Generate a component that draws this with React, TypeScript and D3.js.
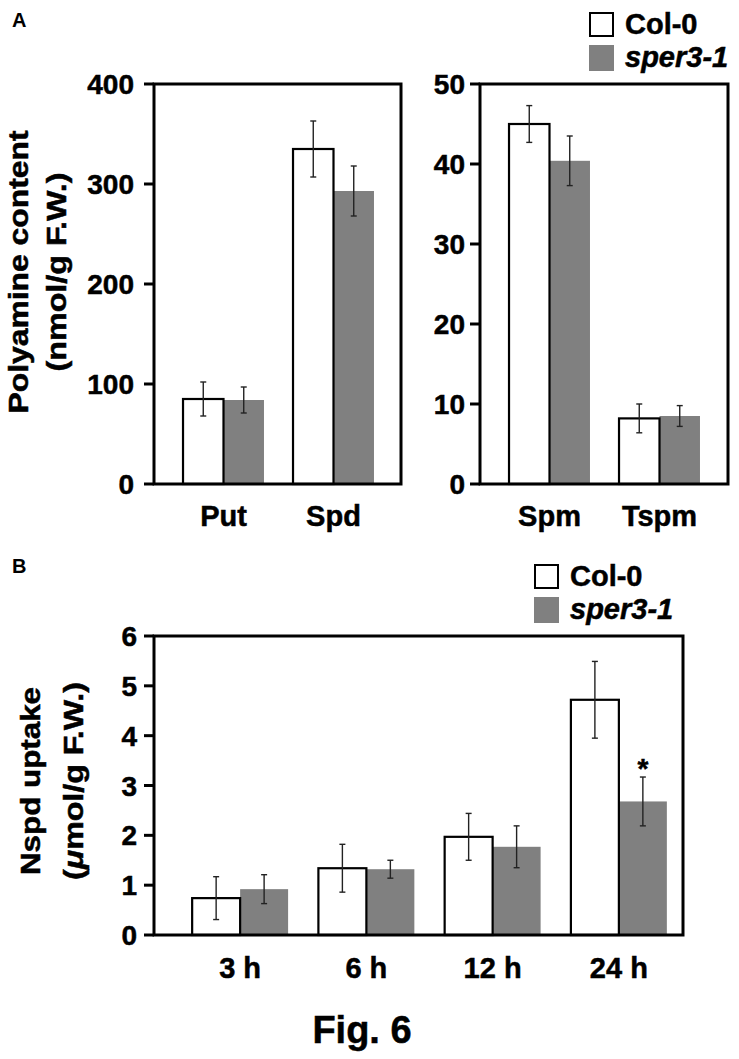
import React from "react";
import * as d3 from "d3";

// ---------- Data ----------
const seriesNames = ["Col-0", "sper3-1"];

const groupsA1 = ["Put", "Spd"];
const col0A1 = [85, 335];
const col0ErrA1 = [17, 28];
const sperA1 = [84, 293];
const sperErrA1 = [13, 25];
const ticksA1 = [0, 100, 200, 300, 400];

const groupsA2 = ["Spm", "Tspm"];
const col0A2 = [45, 8.2];
const col0ErrA2 = [2.3, 1.8];
const sperA2 = [40.4, 8.5];
const sperErrA2 = [3.1, 1.3];
const ticksA2 = [0, 10, 20, 30, 40, 50];

const timesB = ["3 h", "6 h", "12 h", "24 h"];
const col0B = [0.74, 1.34, 1.97, 4.72];
const col0ErrB = [0.43, 0.48, 0.47, 0.77];
const sperB = [0.92, 1.32, 1.77, 2.68];
const sperErrB = [0.29, 0.18, 0.42, 0.49];
const signifB = [false, false, false, true];
const ticksB = [0, 1, 2, 3, 4, 5, 6];

const FONT = "'Liberation Sans', Arial, Helvetica, sans-serif";
const GRAY = "#808080";
const HEAVY = { stroke: "#000", strokeWidth: 0.5 } as const;

type PanelProps = {
  groups: string[];
  col0: number[];
  col0Err: number[];
  sper: number[];
  sperErr: number[];
  ticks: number[];
  yMax: number;
  x0: number;
  x1: number;
  yTop: number;
  yBottom: number;
  bandRange: [number, number];
  groupFrac: number;
  tickLabelX: number;
  labelBaseline: number;
  signif?: boolean[];
};

function Panel(p: PanelProps) {
  const y = d3.scaleLinear().domain([0, p.yMax]).range([p.yBottom, p.yTop]);
  const xg = d3.scaleBand<string>().domain(p.groups).range(p.bandRange).paddingInner(0).paddingOuter(0);
  const gw = xg.bandwidth() * p.groupFrac;
  const xs = d3.scaleBand<string>().domain(seriesNames).range([0, gw]);
  const bw = xs.bandwidth();
  const capW = 6;
  const tickLen = 10;

  return (
    <g>
      {p.groups.map((g, i) => {
        const gx = (xg(g) as number) + (xg.bandwidth() - gw) / 2;
        const cx0 = gx + (xs("Col-0") as number);
        const cx1 = gx + (xs("sper3-1") as number);
        const bars = [
          { x: cx1, v: p.sper[i], e: p.sperErr[i], fill: GRAY, stroke: "none" },
          { x: cx0, v: p.col0[i], e: p.col0Err[i], fill: "#fff", stroke: "#000" },
        ];
        return (
          <g key={g}>
            {bars.map((b, k) => (
              <rect
                key={k}
                x={b.x}
                y={y(b.v)}
                width={bw}
                height={p.yBottom - y(b.v)}
                fill={b.fill}
                stroke={b.stroke}
                strokeWidth={2.2}
              />
            ))}
            {bars.map((b, k) => {
              const mx = b.x + bw / 2;
              const t = y(b.v + b.e);
              const bo = y(b.v - b.e);
              return (
                <g key={"e" + k} stroke="#222" strokeWidth={1.4}>
                  <line x1={mx} x2={mx} y1={t} y2={bo} />
                  <line x1={mx - capW / 2} x2={mx + capW / 2} y1={t} y2={t} />
                  <line x1={mx - capW / 2} x2={mx + capW / 2} y1={bo} y2={bo} />
                </g>
              );
            })}
            {p.signif && p.signif[i] ? (
              <text
                x={cx1 + bw / 2}
                y={y(p.sper[i] + p.sperErr[i]) + 1}
                textAnchor="middle"
                fontFamily={FONT}
                fontWeight="bold"
                fontSize={28}
                {...HEAVY}
              >
                *
              </text>
            ) : null}
            <text
              x={(xg(g) as number) + xg.bandwidth() / 2}
              y={p.labelBaseline}
              textAnchor="middle"
              fontFamily={FONT}
              fontWeight="bold"
              fontSize={29}
              {...HEAVY}
            >
              {g}
            </text>
          </g>
        );
      })}
      <rect
        x={p.x0}
        y={p.yTop}
        width={p.x1 - p.x0}
        height={p.yBottom - p.yTop}
        fill="none"
        stroke="#000"
        strokeWidth={3}
      />
      {p.ticks.map((t) => (
        <g key={t}>
          <line x1={p.x0 - tickLen} x2={p.x0} y1={y(t)} y2={y(t)} stroke="#000" strokeWidth={3} />
          <text
            x={p.tickLabelX}
            y={y(t)}
            dy="0.36em"
            textAnchor="end"
            fontFamily={FONT}
            fontWeight="bold"
            fontSize={28}
            {...HEAVY}
          >
            {t}
          </text>
        </g>
      ))}
    </g>
  );
}

function Legend({ x, y1, y2 }: { x: number; y1: number; y2: number }) {
  return (
    <g fontFamily={FONT} fontWeight="bold" fontSize={29} {...HEAVY}>
      <rect x={x} y={y1} width={23} height={23} fill="#fff" stroke="#000" strokeWidth={2} />
      <text x={x + 35} y={y1 + 21}>Col-0</text>
      <rect x={x - 1} y={y2} width={25} height={26} fill={GRAY} stroke="none" />
      <text x={x + 35} y={y2 + 22} fontStyle="italic">sper3-1</text>
    </g>
  );
}

function RotTitle({
  x,
  y,
  len,
  size,
  children,
}: {
  x: number;
  y: number;
  len: number;
  size: number;
  children: React.ReactNode;
}) {
  return (
    <text
      transform={`translate(${x},${y}) rotate(-90)`}
      textAnchor="middle"
      fontFamily={FONT}
      fontWeight="bold"
      fontSize={size}
      textLength={len}
      lengthAdjust="spacingAndGlyphs"
      {...HEAVY}
    >
      {children}
    </text>
  );
}

export default function App() {
  return (
    <svg
      width={739}
      height={1059}
      viewBox="0 0 739 1059"
      style={{ position: "absolute", left: 0, top: 0, background: "#fff" }}
    >
      <rect x={0} y={0} width={739} height={1059} fill="#fff" />
      {/* Panel labels */}
      <text x={12} y={27} fontFamily={FONT} fontWeight="bold" fontSize={20}>A</text>
      <text x={12} y={573} fontFamily={FONT} fontWeight="bold" fontSize={20}>B</text>

      {/* Panel A */}
      <Legend x={590} y1={13} y2={45} />
      <RotTitle x={28} y={272} len={283} size={27}>Polyamine content</RotTitle>
      <RotTitle x={66} y={272} len={199} size={27}>(nmol/g F.W.)</RotTitle>
      <Panel
        groups={groupsA1}
        col0={col0A1}
        col0Err={col0ErrA1}
        sper={sperA1}
        sperErr={sperErrA1}
        ticks={ticksA1}
        yMax={400}
        x0={154}
        x1={401}
        yTop={84}
        yBottom={484}
        bandRange={[168.5, 388.5]}
        groupFrac={0.736}
        tickLabelX={134}
        labelBaseline={526}
      />
      <Panel
        groups={groupsA2}
        col0={col0A2}
        col0Err={col0ErrA2}
        sper={sperA2}
        sperErr={sperErrA2}
        ticks={ticksA2}
        yMax={50}
        x0={480}
        x1={728}
        yTop={84}
        yBottom={484}
        bandRange={[494.5, 714.5]}
        groupFrac={0.736}
        tickLabelX={465}
        labelBaseline={526}
      />

      {/* Panel B */}
      <Legend x={535} y1={565} y2={597} />
      <RotTitle x={40} y={781} len={188} size={27}>Nspd uptake</RotTitle>
      <RotTitle x={83} y={781} len={198} size={27}>
        (<tspan fontStyle="italic">μ</tspan>mol/g F.W.)
      </RotTitle>
      <Panel
        groups={timesB}
        col0={col0B}
        col0Err={col0ErrB}
        sper={sperB}
        sperErr={sperErrB}
        ticks={ticksB}
        yMax={6}
        x0={154}
        x1={683}
        yTop={636}
        yBottom={935}
        bandRange={[177, 682]}
        groupFrac={0.76}
        tickLabelX={137}
        labelBaseline={978}
        signif={signifB}
      />

      <text x={362} y={1043} textAnchor="middle" fontFamily={FONT} fontWeight="bold" fontSize={38} {...HEAVY}>
        Fig. 6
      </text>
    </svg>
  );
}
